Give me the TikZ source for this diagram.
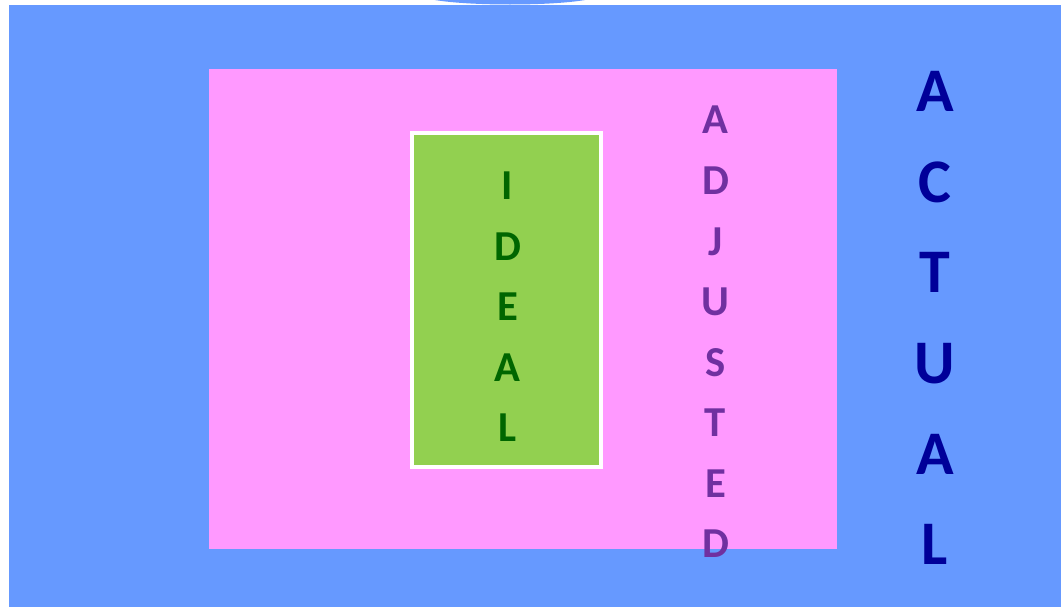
\documentclass[tikz,border=0pt]{standalone}
\usepackage{fontspec}
\setmainfont{Carlito}
\usepackage{tikz}
\usetikzlibrary{positioning}

\definecolor{actualblue}{HTML}{6699FF}
\definecolor{adjpink}{HTML}{FF99FF}
\definecolor{idealgreen}{HTML}{92D050}
\definecolor{idealtext}{HTML}{006600}
\definecolor{adjtext}{HTML}{7030A0}
\definecolor{actualtext}{HTML}{000099}

\begin{document}
\begin{tikzpicture}[x=0.75pt,y=-0.75pt,
      word/.style={align=center,inner sep=0pt,font=\bfseries\fontsize{32}{45.4}\selectfont},
      big word/.style={align=center,inner sep=0pt,font=\bfseries\fontsize{46.5}{68}\selectfont}]
      \useasboundingbox (0,0) rectangle (1061,607);
      \begin{scope}
        \clip (0,0) rectangle (1061,607);
        \fill[actualblue] (510,-5.5) ellipse [x radius=90, y radius=10];
      \end{scope}
      \fill[actualblue] (9,5) rectangle (1061,607);
      \fill[adjpink] (209,69) rectangle (837,549);
      \draw[white,line width=3pt,fill=idealgreen] (412,133) rectangle (601,467);

      \node[word,text=idealtext] (ideal) at (507.5,307) {I\\D\\E\\A\\L};
      \node[word,text=adjtext] (adjusted) at (715.5,332) {A\\D\\J\\U\\S\\T\\E\\D};
      \node[big word,text=actualtext] (actual) at (935,318) {A\\C\\T\\U\\A\\L};
    \end{tikzpicture}
\end{document}
